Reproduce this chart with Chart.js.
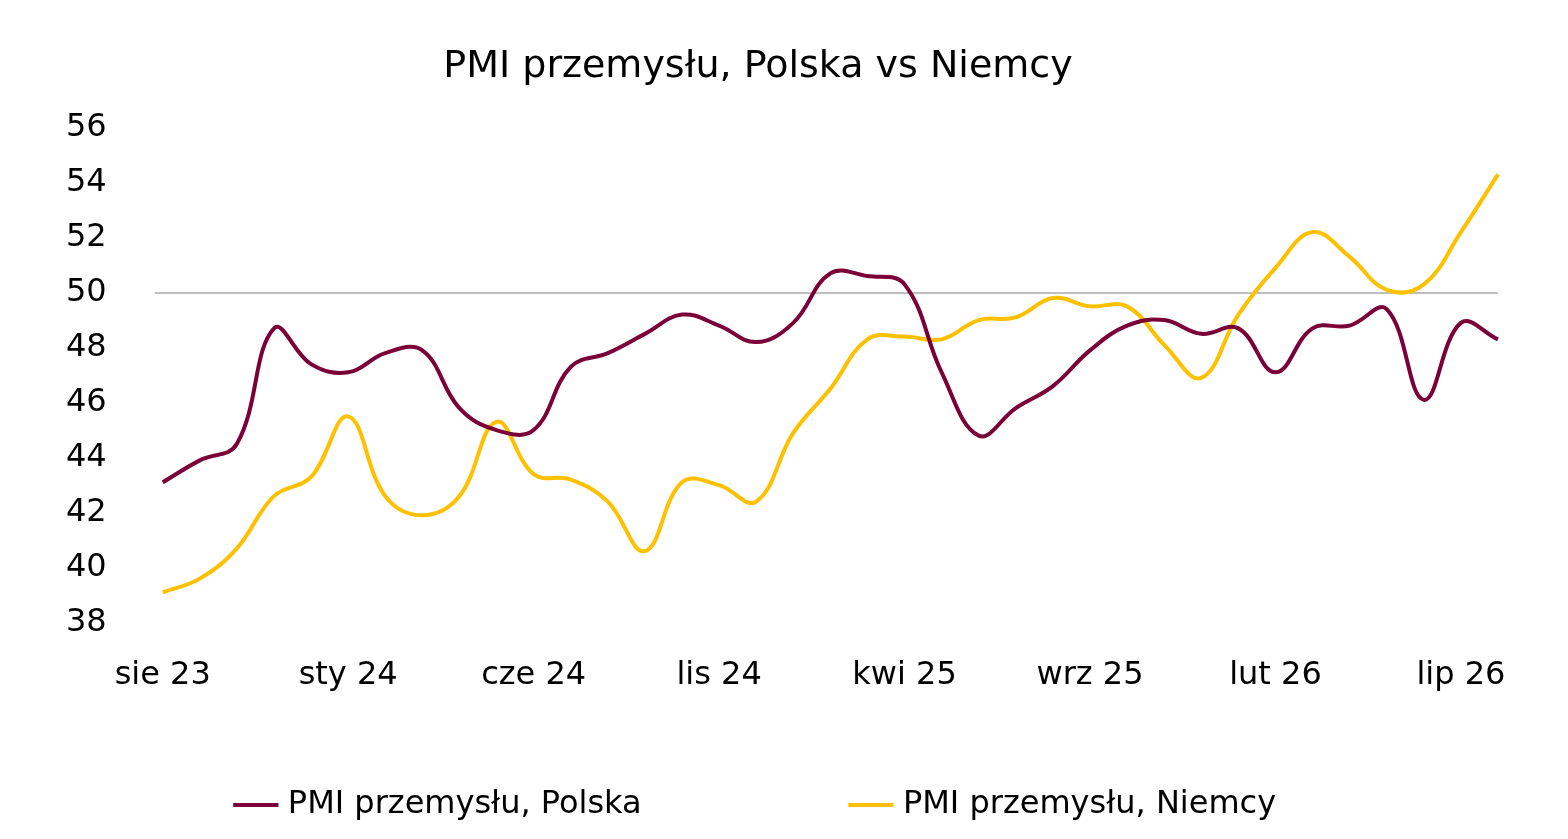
<!DOCTYPE html>
<html><head><meta charset="utf-8">
<script src="https://cdn.jsdelivr.net/npm/chart.js@4"></script>
<style>html,body{margin:0;background:#fff}#w{width:1568px;height:839px}</style>
</head><body><div id="w"><canvas id="c"></canvas></div>
<script>
const months=['sty','lut','mar','kwi','maj','cze','lip','sie','wrz','paź','lis','gru'];
const labels=[];for(let i=0;i<37;i++){const m=(7+i)%12,y=23+Math.floor((7+i)/12);labels.push(months[m]+' '+y);}
const polska=[43.1,43.9,44.5,48.7,47.4,47.1,47.8,47.9,45.8,45.0,45.0,47.3,47.8,48.5,49.2,48.8,48.2,48.9,50.7,50.6,50.3,47.1,44.8,45.8,46.6,47.9,48.8,49.0,48.5,48.7,47.1,48.7,48.8,49.4,46.1,48.9,48.3];
const niemcy=[39.1,39.6,40.7,42.6,43.3,45.5,42.6,41.9,42.6,45.3,43.4,43.2,42.4,40.6,43.1,43.0,42.4,44.9,46.5,48.3,48.4,48.3,49.0,49.1,49.8,49.5,49.5,48.1,46.9,49.2,50.9,52.2,51.3,50.1,50.3,52.2,54.3];
const F='DejaVu Sans';
new Chart(document.getElementById('c'),{type:'line',
data:{labels,datasets:[
{label:'PMI przemysłu, Polska',data:polska,borderColor:'#7B0037',backgroundColor:'#7B0037',borderWidth:4,pointRadius:0,tension:0.4},
{label:'PMI przemysłu, Niemcy',data:niemcy,borderColor:'#FFC000',backgroundColor:'#FFC000',borderWidth:4,pointRadius:0,tension:0.4}]},
options:{responsive:true,maintainAspectRatio:false,animation:false,
layout:{padding:{left:18,right:70,top:0,bottom:8}},
plugins:{title:{display:true,text:'PMI przemysłu, Polska vs Niemcy',color:'#000',font:{family:F,size:38,weight:'normal'},padding:{top:44,bottom:38}},
legend:{position:'bottom',labels:{usePointStyle:true,pointStyle:'line',boxWidth:90,padding:20,color:'#000',font:{family:F,size:32},
generateLabels:ch=>{const l=Chart.defaults.plugins.legend.labels.generateLabels(ch);l[0].text=l[0].text+'                   ';return l;}}}},
scales:{x:{offset:false,grid:{display:false},border:{display:false},afterFit:s=>{s.height+=48;},ticks:{autoSkip:false,maxRotation:0,color:'#000',font:{family:F,size:32},padding:26,callback:(v,i)=>i%5===0?labels[i]:''}},
y:{min:38,max:56,border:{display:false},grid:{color:c=>c.tick.value===50?'#bfbfbf':'transparent',lineWidth:2},ticks:{stepSize:2,color:'#000',font:{family:F,size:32},padding:48}}}}});
</script></body></html>
